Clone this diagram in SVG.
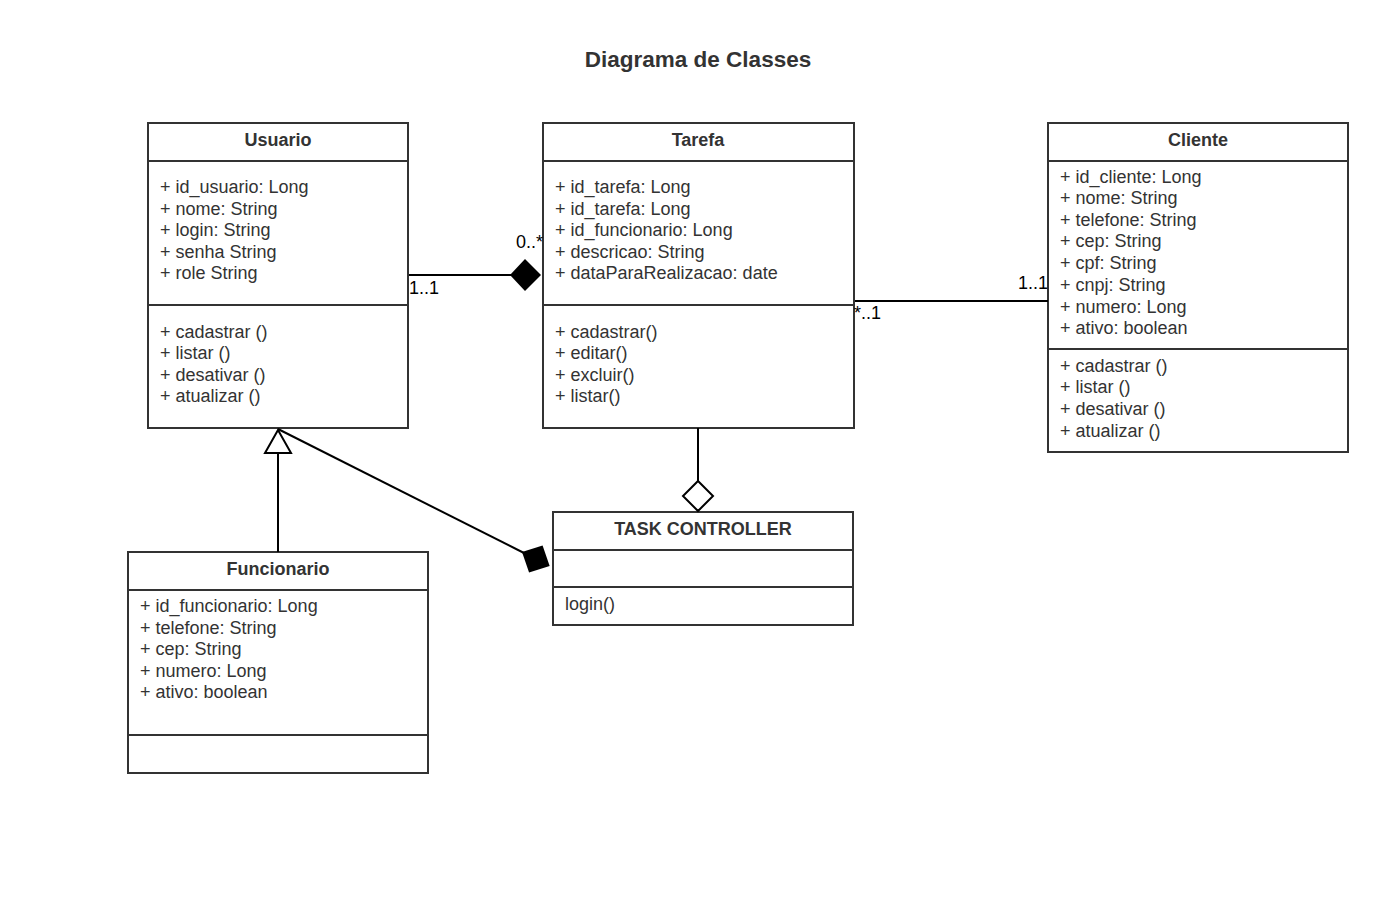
<svg xmlns="http://www.w3.org/2000/svg" width="1398" height="897" viewBox="0 0 1398 897">
<style>
.box{fill:#fff;stroke:#333;stroke-width:2}
.div{stroke:#333;stroke-width:2}
.t{font-family:"Liberation Sans",Arial,sans-serif;font-size:18px;fill:#333}
.h{font-family:"Liberation Sans",Arial,sans-serif;font-size:18px;font-weight:bold;fill:#333;text-anchor:middle}
.title{font-family:"Liberation Sans",Arial,sans-serif;font-size:22.5px;font-weight:bold;fill:#333;text-anchor:middle}
.c{stroke:#000;stroke-width:2;fill:none}
.lbl{font-family:"Liberation Sans",Arial,sans-serif;font-size:18px;fill:#000}
</style>
<rect width="1398" height="897" fill="#fff"/>
<text class="title" x="698" y="67">Diagrama de Classes</text>

<g id="usuario">
<rect class="box" x="148" y="123" width="260" height="305"/>
<line class="div" x1="148" y1="161" x2="408" y2="161"/>
<line class="div" x1="148" y1="305" x2="408" y2="305"/>
<text class="h" x="278" y="146">Usuario</text>
<text class="t" x="160" y="193">+ id_usuario: Long</text>
<text class="t" x="160" y="215">+ nome: String</text>
<text class="t" x="160" y="236">+ login: String</text>
<text class="t" x="160" y="258">+ senha String</text>
<text class="t" x="160" y="279">+ role String</text>
<text class="t" x="160" y="338">+ cadastrar ()</text>
<text class="t" x="160" y="359">+ listar ()</text>
<text class="t" x="160" y="381">+ desativar ()</text>
<text class="t" x="160" y="402">+ atualizar ()</text>
</g>

<g id="tarefa">
<rect class="box" x="543" y="123" width="311" height="305"/>
<line class="div" x1="543" y1="161" x2="854" y2="161"/>
<line class="div" x1="543" y1="305" x2="854" y2="305"/>
<text class="h" x="698" y="146">Tarefa</text>
<text class="t" x="555" y="193">+ id_tarefa: Long</text>
<text class="t" x="555" y="215">+ id_tarefa: Long</text>
<text class="t" x="555" y="236">+ id_funcionario: Long</text>
<text class="t" x="555" y="258">+ descricao: String</text>
<text class="t" x="555" y="279">+ dataParaRealizacao: date</text>
<text class="t" x="555" y="338">+ cadastrar()</text>
<text class="t" x="555" y="359">+ editar()</text>
<text class="t" x="555" y="381">+ excluir()</text>
<text class="t" x="555" y="402">+ listar()</text>
</g>

<g id="cliente">
<rect class="box" x="1048" y="123" width="300" height="329"/>
<line class="div" x1="1048" y1="161" x2="1348" y2="161"/>
<line class="div" x1="1048" y1="349" x2="1348" y2="349"/>
<text class="h" x="1198" y="146">Cliente</text>
<text class="t" x="1060" y="183">+ id_cliente: Long</text>
<text class="t" x="1060" y="204">+ nome: String</text>
<text class="t" x="1060" y="226">+ telefone: String</text>
<text class="t" x="1060" y="247">+ cep: String</text>
<text class="t" x="1060" y="269">+ cpf: String</text>
<text class="t" x="1060" y="291">+ cnpj: String</text>
<text class="t" x="1060" y="313">+ numero: Long</text>
<text class="t" x="1060" y="334">+ ativo: boolean</text>
<text class="t" x="1060" y="372">+ cadastrar ()</text>
<text class="t" x="1060" y="393">+ listar ()</text>
<text class="t" x="1060" y="415">+ desativar ()</text>
<text class="t" x="1060" y="437">+ atualizar ()</text>
</g>

<g id="funcionario">
<rect class="box" x="128" y="552" width="300" height="221"/>
<line class="div" x1="128" y1="590" x2="428" y2="590"/>
<line class="div" x1="128" y1="735" x2="428" y2="735"/>
<text class="h" x="278" y="575">Funcionario</text>
<text class="t" x="140" y="612">+ id_funcionario: Long</text>
<text class="t" x="140" y="634">+ telefone: String</text>
<text class="t" x="140" y="655">+ cep: String</text>
<text class="t" x="140" y="677">+ numero: Long</text>
<text class="t" x="140" y="698">+ ativo: boolean</text>
</g>

<g id="taskcontroller">
<rect class="box" x="553" y="512" width="300" height="113"/>
<line class="div" x1="553" y1="550" x2="853" y2="550"/>
<line class="div" x1="553" y1="587" x2="853" y2="587"/>
<text class="h" x="703" y="535">TASK CONTROLLER</text>
<text class="t" x="565" y="610">login()</text>
</g>

<g id="connectors">
<line class="c" x1="409" y1="275" x2="511" y2="275"/>
<polygon points="541,275 525,259 510,275 525,291" fill="#000"/>
<text class="lbl" x="516" y="248">0..*</text>
<text class="lbl" x="409" y="294">1..1</text>

<line class="c" x1="855" y1="301" x2="1048" y2="301"/>
<text class="lbl" x="854" y="319">*..1</text>
<text class="lbl" x="1018" y="289">1..1</text>

<line class="c" x1="278" y1="552" x2="278" y2="453"/>
<polygon points="278,430 265,453 291,453" fill="#fff" stroke="#000" stroke-width="2"/>

<line class="c" x1="278" y1="429" x2="524" y2="553"/>
<polygon points="0,0 15.5,-15 31,0 15.5,15" fill="#000" transform="translate(522,552) rotate(26.85)"/>

<line class="c" x1="698" y1="428" x2="698" y2="481"/>
<polygon points="698,481 713,496 698,511 683,496" fill="#fff" stroke="#000" stroke-width="2"/>
</g>
</svg>
